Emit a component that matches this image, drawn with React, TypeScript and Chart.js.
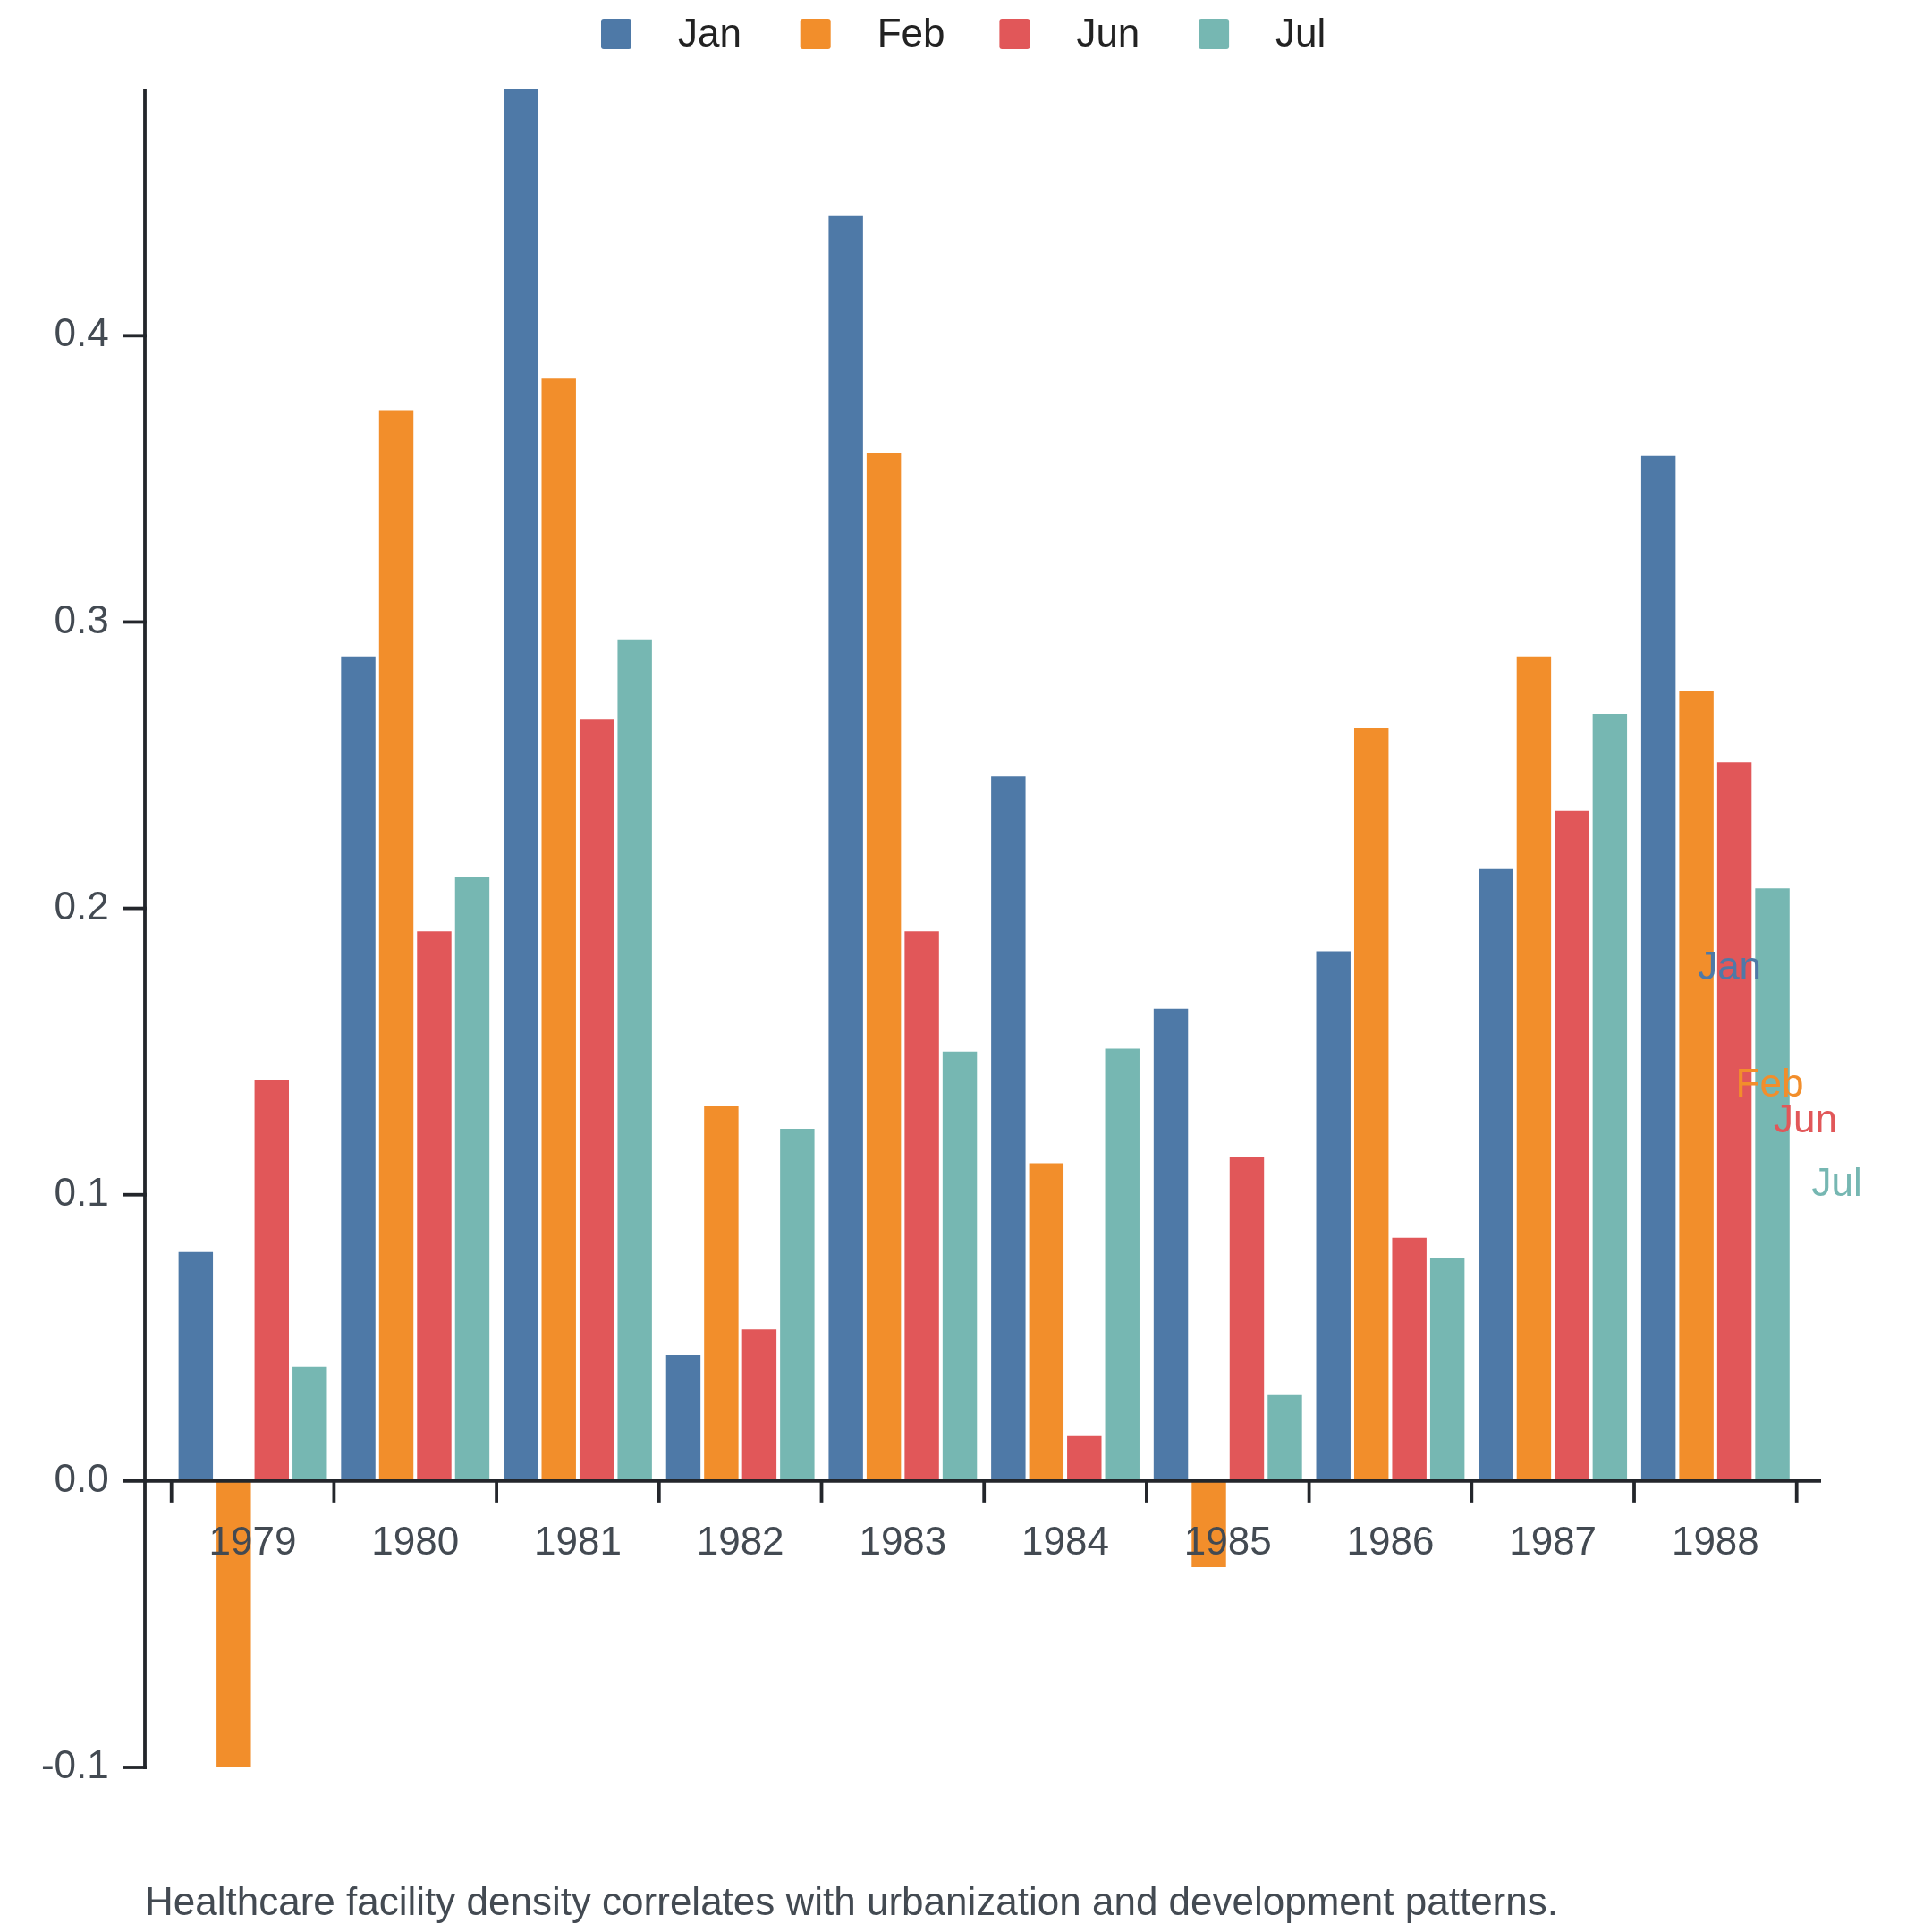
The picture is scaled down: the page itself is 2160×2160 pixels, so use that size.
import React, { useEffect, useRef } from 'react';
import { Chart, registerables } from 'chart.js';

Chart.register(...registerables);

const years = ['1979', '1980', '1981', '1982', '1983', '1984', '1985', '1986', '1987', '1988'];
const seriesNames = ['Jan', 'Feb', 'Jun', 'Jul'];
const seriesColors = ['#4e79a7', '#f28e2b', '#e15759', '#76b7b2'];
const janValues = [0.080, 0.288, 0.486, 0.044, 0.442, 0.246, 0.165, 0.185, 0.214, 0.358];
const febValues = [-0.100, 0.374, 0.385, 0.131, 0.359, 0.111, -0.030, 0.263, 0.288, 0.276];
const junValues = [0.140, 0.192, 0.266, 0.053, 0.192, 0.016, 0.113, 0.085, 0.234, 0.251];
const julValues = [0.040, 0.211, 0.294, 0.123, 0.150, 0.151, 0.030, 0.078, 0.268, 0.207];
const yTicks = [-0.1, 0.0, 0.1, 0.2, 0.3, 0.4];
const yMin = -0.1;
const yMax = 0.486;
const caption = 'Healthcare facility density correlates with urbanization and development patterns.';

const FONT = '"Liberation Sans", Arial, Helvetica, sans-serif';
const FONT_SIZE = 44;
const AXIS_COLOR = '#23262b';
const TEXT_COLOR = '#434a52';

export default function App() {
  const canvasRef = useRef<HTMLCanvasElement | null>(null);

  useEffect(() => {
    const canvas = canvasRef.current;
    if (!canvas) return;
    const allValues = [janValues, febValues, junValues, julValues];

    const decorPlugin = {
      id: 'decor',
      afterDatasetsDraw(chart: any) {
        const ctx = chart.ctx;
        const area = chart.chartArea;
        const xs = chart.scales.x;
        const ys = chart.scales.y;
        const axisX = area.left - 29.7;
        const y0 = ys.getPixelForValue(0);
        ctx.save();
        ctx.strokeStyle = AXIS_COLOR;
        ctx.lineWidth = 3.8;
        ctx.lineCap = 'butt';
        // y axis line
        ctx.beginPath();
        ctx.moveTo(axisX, area.top);
        ctx.lineTo(axisX, area.bottom + 1.9);
        ctx.stroke();
        // y ticks
        yTicks.forEach((v) => {
          const py = ys.getPixelForValue(v);
          ctx.beginPath();
          ctx.moveTo(axisX - 24, py);
          ctx.lineTo(axisX + 1.9, py);
          ctx.stroke();
        });
        // x axis line
        ctx.beginPath();
        ctx.moveTo(axisX, y0);
        ctx.lineTo(area.right + 27.3, y0);
        ctx.stroke();
        // x ticks at category boundaries
        const w = xs.getPixelForValue(1) - xs.getPixelForValue(0);
        const first = xs.getPixelForValue(0) - w / 2;
        for (let i = 0; i <= years.length; i++) {
          const px = first + i * w;
          ctx.beginPath();
          ctx.moveTo(px, y0);
          ctx.lineTo(px, y0 + 24);
          ctx.stroke();
        }
        ctx.restore();
      },
      afterDraw(chart: any) {
        const ctx = chart.ctx;
        const ys = chart.scales.y;
        ctx.save();
        // end labels at half of last bar
        ctx.font = `${FONT_SIZE}px ${FONT}`;
        ctx.textAlign = 'left';
        ctx.textBaseline = 'middle';
        const last = years.length - 1;
        seriesNames.forEach((name, i) => {
          const el = chart.getDatasetMeta(i).data[last];
          const py = ys.getPixelForValue(allValues[i][last] / 2);
          ctx.fillStyle = seriesColors[i];
          ctx.fillText(name, el.x + 44, py);
        });
        // legend
        seriesNames.forEach((name, i) => {
          const sx = 672 + i * 222.7;
          ctx.fillStyle = seriesColors[i];
          ctx.beginPath();
          (ctx as any).roundRect(sx, 21, 34, 34, 3);
          ctx.fill();
          ctx.fillStyle = '#222222';
          ctx.fillText(name, sx + 86, 40);
        });
        // caption
        ctx.fillStyle = TEXT_COLOR;
        ctx.textBaseline = 'alphabetic';
        ctx.fillText(caption, 162, 2141);
        ctx.restore();
      },
    };

    const chart = new Chart(canvas, {
      type: 'bar',
      data: {
        labels: years,
        datasets: seriesNames.map((name, i) => ({
          label: name,
          data: allValues[i],
          backgroundColor: seriesColors[i],
          borderWidth: 0,
          categoryPercentage: 0.935,
          barPercentage: 0.905,
        })),
      },
      options: {
        responsive: false,
        animation: false,
        layout: { padding: { left: 41.7, right: 151.3, top: 100, bottom: 184 } },
        plugins: {
          legend: { display: false },
          tooltip: { enabled: false },
          title: { display: false },
        },
        scales: {
          x: {
            type: 'category',
            position: { y: 0 } as any,
            grid: { display: false, drawTicks: false },
            border: { display: false },
            ticks: {
              z: 2,
              color: TEXT_COLOR,
              font: { family: FONT, size: FONT_SIZE },
              padding: 44,
              maxRotation: 0,
              autoSkip: false,
            },
            afterFit: (s: any) => {
              s.height = 0;
            },
          },
          y: {
            type: 'linear',
            min: yMin,
            max: yMax,
            grid: { display: false, drawTicks: false },
            border: { display: false },
            ticks: {
              color: TEXT_COLOR,
              font: { family: FONT, size: FONT_SIZE },
              padding: 70,
              callback: (v: any) => Number(v).toFixed(1),
            },
            afterBuildTicks: (s: any) => {
              s.ticks = yTicks.map((v) => ({ value: v }));
            },
            afterFit: (s: any) => {
              s.width = 150;
            },
          },
        },
      },
      plugins: [decorPlugin],
    });

    return () => {
      chart.destroy();
    };
  }, []);

  return (
    <div style={{ position: 'absolute', left: 0, top: 0, width: 2160, height: 2160, background: '#ffffff' }}>
      <canvas ref={canvasRef} width={2160} height={2160} style={{ width: 2160, height: 2160, display: 'block' }} />
    </div>
  );
}
